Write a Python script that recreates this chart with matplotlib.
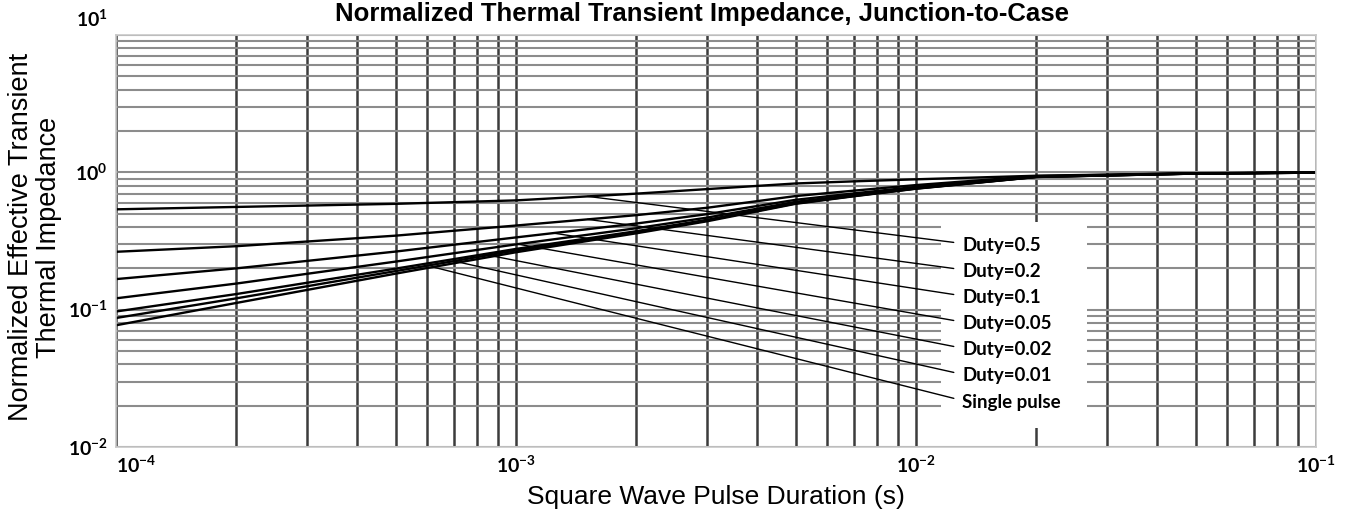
import numpy as np
import matplotlib
matplotlib.use("Agg")
import matplotlib.pyplot as plt
from matplotlib.patches import Rectangle
from matplotlib.ticker import FixedLocator, FuncFormatter, LogLocator
from matplotlib.transforms import ScaledTranslation

# ── Fonts ──────────────────────────────────────────────────────────────────────
plt.rcParams["font.family"] = ["Liberation Sans", "DejaVu Sans"]
plt.rcParams["mathtext.fontset"] = "custom"
plt.rcParams["mathtext.rm"] = "Lato"
plt.rcParams["mathtext.bf"] = "Lato:bold"

# ── Data ──────────────────────────────────────────────────────────────────────
pulse_s = [1e-4, 2e-4, 5e-4, 1e-3, 2e-3, 3e-3, 5e-3, 7e-3, 1e-2, 2e-2, 5e-2, 1e-1]

z_d050 = [0.538, 0.560, 0.590, 0.625, 0.700, 0.755, 0.830, 0.860, 0.890, 0.945, 0.986, 0.997]
z_d020 = [0.264, 0.290, 0.346, 0.410, 0.488, 0.552, 0.672, 0.736, 0.808, 0.940, 0.984, 0.996]
z_d010 = [0.167, 0.200, 0.265, 0.336, 0.424, 0.496, 0.631, 0.703, 0.784, 0.932, 0.982, 0.996]
z_d005 = [0.121, 0.155, 0.224, 0.299, 0.392, 0.468, 0.610, 0.686, 0.772, 0.929, 0.981, 0.995]
z_d002 = [0.097, 0.130, 0.199, 0.277, 0.373, 0.451, 0.598, 0.677, 0.765, 0.927, 0.980, 0.995]
z_d001 = [0.087, 0.121, 0.191, 0.270, 0.366, 0.446, 0.594, 0.673, 0.762, 0.926, 0.980, 0.995]
z_single = [0.077, 0.112, 0.183, 0.262, 0.360, 0.440, 0.590, 0.670, 0.760, 0.925, 0.980, 0.995]

labels = ["Duty=0.5", "Duty=0.2", "Duty=0.1", "Duty=0.05",
          "Duty=0.02", "Duty=0.01", "Single pulse"]
series = [z_d050, z_d020, z_d010, z_d005, z_d002, z_d001, z_single]
# pulse width where each leader line touches its curve
leader_at = [1.51e-3, 1.51e-3, 1.24e-3, 1.01e-3, 8.3e-4, 7.0e-4, 6.2e-4]

x_ticks = [1e-4, 1e-3, 1e-2, 1e-1]
y_ticks = [1e-2, 1e-1, 1e0, 1e1]

# ── Figure ─────────────────────────────────────────────────────────────────────
fig = plt.figure(figsize=(13.47, 5.18), dpi=100)
ax = fig.add_axes([0.0861, 0.137, 0.8909, 0.7954])
ax.set_xscale("log")
ax.set_yscale("log")
ax.set_xlim(1e-4, 1e-1)
ax.set_ylim(1e-2, 1e1)

# grid: every 1..9 in each decade
ax.xaxis.set_major_locator(FixedLocator(x_ticks))
ax.yaxis.set_major_locator(FixedLocator(y_ticks))
ax.xaxis.set_minor_locator(LogLocator(base=10, subs=np.arange(1, 10)))
ax.yaxis.set_minor_locator(LogLocator(base=10, subs=np.arange(1, 10)))
ax.xaxis.set_minor_formatter(FuncFormatter(lambda v, p: ""))
ax.yaxis.set_minor_formatter(FuncFormatter(lambda v, p: ""))
ax.set_axisbelow(True)
ax.grid(True, which="both", axis="x", color="#3c3c3c", lw=1.8, zorder=0)
ax.grid(True, which="both", axis="y", color="#8c8c8c", lw=1.5, zorder=0)

fmt = FuncFormatter(lambda v, p: r"$\mathbf{10^{%d}}$" % round(np.log10(v)))
ax.xaxis.set_major_formatter(fmt)
ax.yaxis.set_major_formatter(fmt)
ax.tick_params(which="both", length=0, labelsize=14)
ax.tick_params(axis="x", pad=6)
ax.tick_params(axis="y", pad=6)

for sp in ax.spines.values():
    sp.set_color("#c8c8c8")
    sp.set_linewidth(1.2)

# ── Curves ─────────────────────────────────────────────────────────────────────
for z in series:
    ax.plot(pulse_s, z, color="black", lw=1.7, zorder=2)

# white box behind the labels
ax.add_patch(Rectangle((0.6875, 0.046), 0.1215, 0.50, transform=ax.transAxes,
                       facecolor="white", edgecolor="none", zorder=1))

# ── Leader lines + labels ──────────────────────────────────────────────────────
log_t = np.log10(pulse_s)
for i, (lab, z, t0) in enumerate(zip(labels, series, leader_at)):
    z0 = 10 ** np.interp(np.log10(t0), log_t, np.log10(z))
    ax.annotate(lab, xy=(t0, z0), xycoords="data",
                xytext=(0.705, 0.490 - i * 0.0635), textcoords="axes fraction",
                ha="left", va="center", fontsize=13.5, fontweight="bold",
                family=["Lato", "DejaVu Sans"], zorder=3,
                arrowprops=dict(arrowstyle="-", color="black", lw=1.0,
                                shrinkA=4, shrinkB=0, relpos=(0, 0.6)))

# ── Titles ─────────────────────────────────────────────────────────────────────
fig.text(0.521, 1 - 21 / 518, "Normalized Thermal Transient Impedance, Junction-to-Case",
         ha="center", va="baseline", fontsize=18.5, fontweight="bold")
ax.set_xlabel("Square Wave Pulse Duration (s)", fontsize=19, labelpad=6)
ax.set_ylabel("Normalized Effective Transient\nThermal Impedance", fontsize=19.5,
              linespacing=1.1)
ax.yaxis.set_label_coords(-0.045, 0.51)

# tick label quirks of the original
fig.canvas.draw()
ax.get_xticklabels()[0].set_horizontalalignment("left")
top_lbl = ax.get_yticklabels()[-1]
top_lbl.set_transform(top_lbl.get_transform()
                      + ScaledTranslation(0, 17 / 100, fig.dpi_scale_trans))

fig.savefig("out.png", dpi=100)
